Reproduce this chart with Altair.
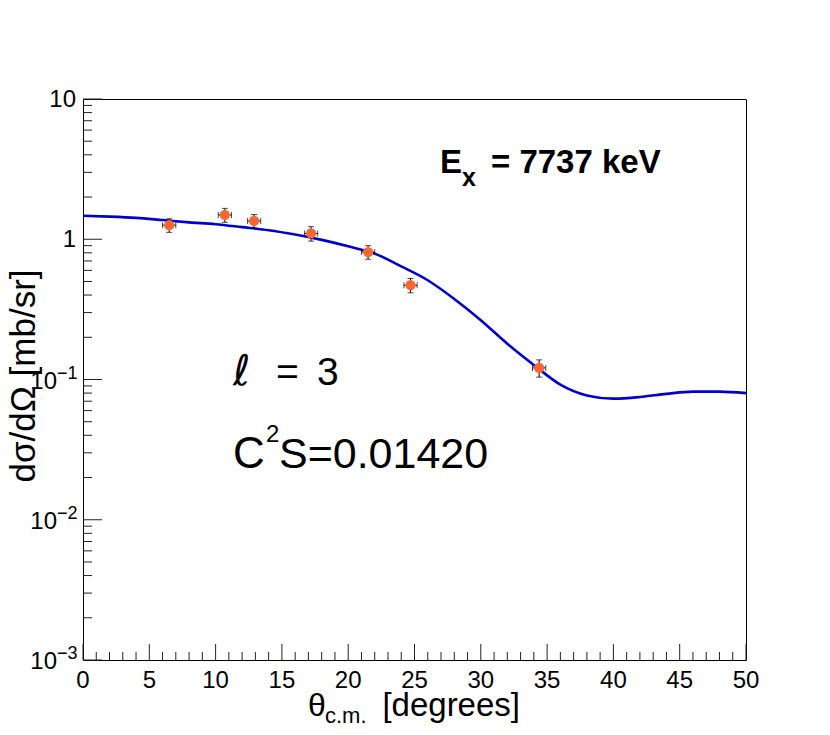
import altair as alt
import pandas as pd

# ---------------- data ----------------
theta = [6.5, 10.7, 12.9, 17.2, 21.5, 24.7, 34.4]
theta_err = [0.5, 0.5, 0.5, 0.5, 0.5, 0.5, 0.5]
dsig = [1.26, 1.49, 1.35, 1.10, 0.81, 0.47, 0.121]
dsig_err = [0.14, 0.17, 0.15, 0.13, 0.09, 0.055, 0.017]

curve_theta = [0, 2, 4, 6, 8, 10, 12, 14, 16, 18, 20, 22, 24, 26, 28, 30,
               32, 34, 36, 38, 40, 42, 44, 46, 48, 50]
curve_dsig = [1.47, 1.45, 1.42, 1.37, 1.32, 1.28, 1.22, 1.16, 1.08, 0.99,
              0.89, 0.79, 0.64, 0.51, 0.375, 0.265, 0.18, 0.127, 0.092,
              0.077, 0.073, 0.075, 0.079, 0.082, 0.082, 0.080]

x_major = [0, 5, 10, 15, 20, 25, 30, 35, 40, 45, 50]
x_labels = ["0", "5", "10", "15", "20", "25", "30", "35", "40", "45", "50"]
x_minor = [v for v in range(0, 51) if v % 5 != 0]
y_major = [0.001, 0.01, 0.1, 1, 10]
y_minor = [m * 10.0 ** e for e in range(-3, 1) for m in range(2, 10)]

ylab_plain_val = [1, 10]
ylab_plain_txt = ["1", "10"]
ylab_pow_val = [0.001, 0.01, 0.1]
ylab_pow_base = ["10", "10", "10"]
ylab_pow_exp = ["\u22123", "\u22122", "\u22121"]

# annotation anchors (data coordinates)
ell_anchor = {"x": [11.31], "y": [0.0914]}
c2s_anchor = {"x": [11.31], "y": [0.0234]}
ex_anchor = {"x": [26.92], "y": [2.97]}

FONT = "Liberation Sans"
W, H = 663, 561

pts = pd.DataFrame({"theta": theta, "dsig": dsig,
                    "tlo": [a - b for a, b in zip(theta, theta_err)],
                    "thi": [a + b for a, b in zip(theta, theta_err)],
                    "lo": [a - b for a, b in zip(dsig, dsig_err)],
                    "hi": [a + b for a, b in zip(dsig, dsig_err)]})
curve = pd.DataFrame({"theta": curve_theta, "dsig": curve_dsig})

xs = alt.Scale(domain=[0, 50], nice=False, zero=False)
ys = alt.Scale(type="log", domain=[0.001, 10], nice=False)

X = lambda f: alt.X(f, type="quantitative", scale=xs, axis=None)
Y = lambda f: alt.Y(f, type="quantitative", scale=ys, axis=None)

line = alt.Chart(curve).mark_line(color="#0000cc", strokeWidth=2.6, interpolate="monotone").encode(
    x=X("theta"), y=Y("dsig"))

vbar = alt.Chart(pts).mark_rule(color="black", strokeWidth=1).encode(x=X("theta"), y=Y("lo"), y2="hi")
hbar = alt.Chart(pts).mark_rule(color="black", strokeWidth=1).encode(x=X("tlo"), x2="thi", y=Y("dsig"))
cap_lo = alt.Chart(pts).mark_tick(color="black", orient="horizontal", size=6, thickness=1).encode(x=X("theta"), y=Y("lo"))
cap_hi = alt.Chart(pts).mark_tick(color="black", orient="horizontal", size=6, thickness=1).encode(x=X("theta"), y=Y("hi"))
cap_l = alt.Chart(pts).mark_tick(color="black", orient="vertical", size=6, thickness=1).encode(x=X("tlo"), y=Y("dsig"))
cap_r = alt.Chart(pts).mark_tick(color="black", orient="vertical", size=6, thickness=1).encode(x=X("thi"), y=Y("dsig"))
dots = alt.Chart(pts).mark_circle(color="#ff6633", size=105, opacity=1).encode(x=X("theta"), y=Y("dsig"))

# inward ticks
xmaj = alt.Chart(pd.DataFrame({"v": x_major})).mark_rule(color="#222", strokeWidth=1).encode(
    x=X("v"), y=alt.value(H), y2=alt.value(H - 16))
xmin = alt.Chart(pd.DataFrame({"v": x_minor})).mark_rule(color="#222", strokeWidth=1).encode(
    x=X("v"), y=alt.value(H), y2=alt.value(H - 8))
ymaj = alt.Chart(pd.DataFrame({"v": y_major})).mark_rule(color="#222", strokeWidth=1).encode(
    y=Y("v"), x=alt.value(0), x2=alt.value(19))
ymin = alt.Chart(pd.DataFrame({"v": y_minor})).mark_rule(color="#222", strokeWidth=1).encode(
    y=Y("v"), x=alt.value(0), x2=alt.value(9))

# x tick labels
xl = alt.Chart(pd.DataFrame({"v": x_major, "t": x_labels})).mark_text(
    font=FONT, fontSize=24, align="center", baseline="top", color="black").encode(
    x=X("v"), y=alt.value(H + 9), text="t:N")

# y tick labels
ylp = alt.Chart(pd.DataFrame({"v": ylab_plain_val, "t": ylab_plain_txt})).mark_text(
    font=FONT, fontSize=24, align="right", baseline="middle", dy=1, color="black").encode(
    y=Y("v"), x=alt.value(-7), text="t:N")
ylb = alt.Chart(pd.DataFrame({"v": ylab_pow_val, "t": ylab_pow_base})).mark_text(
    font=FONT, fontSize=24, align="right", baseline="middle", dy=2, color="black").encode(
    y=Y("v"), x=alt.value(-26), text="t:N")
yle = alt.Chart(pd.DataFrame({"v": ylab_pow_val, "t": ylab_pow_exp})).mark_text(
    font=FONT, fontSize=18, align="left", baseline="middle", dy=-6, color="black").encode(
    y=Y("v"), x=alt.value(-26), text="t:N")

# axis titles
def label(t, x, y, size, align="left", angle=0):
    return alt.Chart(pd.DataFrame({"t": [t]})).mark_text(
        font=FONT, fontSize=size, align=align, baseline="alphabetic", angle=angle,
        color="black").encode(x=alt.value(x), y=alt.value(y), text="t:N")

xt1 = label("\u03b8", 225, 617, 32)
xt2 = label("c.m.", 242, 624, 22)
xt3 = label("[degrees]", 437, 617, 33, align="right")
yt = label("d\u03c3/d\u03a9 [mb/sr]", -48, 277, 35, align="center", angle=270)

# annotations
def ann(anchor, t, size, dx=0, dy=0, bold=False, font=FONT, style="normal"):
    d = dict(anchor)
    d["t"] = [t]
    return alt.Chart(pd.DataFrame(d)).mark_text(
        font=font, fontSize=size, fontWeight="bold" if bold else "normal", fontStyle=style,
        align="left", baseline="alphabetic", dx=dx, dy=dy, color="black").encode(
        x=X("x"), y=Y("y"), text="t:N")

a_ell = ann(ell_anchor, "\u2113", 42, font="DejaVu Sans", style="italic")
a_eq = ann(ell_anchor, "=", 39, dx=43)
a_3 = ann(ell_anchor, "3", 39, dx=84)
a_C = ann(c2s_anchor, "C", 44)
a_2 = ann(c2s_anchor, "2", 24, dx=33, dy=-26)
a_S = ann(c2s_anchor, "S=0.01420", 43, dx=46)
a_E = ann(ex_anchor, "E", 33, bold=True)
a_x = ann(ex_anchor, "x", 25, dx=22, dy=13, bold=True)
a_rest = ann(ex_anchor, "= 7737 keV", 33, dx=51, bold=True)

chart = alt.layer(line, vbar, hbar, cap_lo, cap_hi, cap_l, cap_r, dots,
                  xmaj, xmin, ymaj, ymin, xl, ylp, ylb, yle, xt1, xt2, xt3, yt,
                  a_ell, a_eq, a_3, a_C, a_2, a_S, a_E, a_x, a_rest).properties(
    width=W, height=H,
    autosize=alt.AutoSizeParams(type="none"),
    padding={"left": 75, "top": 91, "right": 60, "bottom": 67},
    background="white",
).configure_view(stroke="black", strokeWidth=1)

chart.save("out.html", embed_options={"renderer": "svg", "actions": False})
